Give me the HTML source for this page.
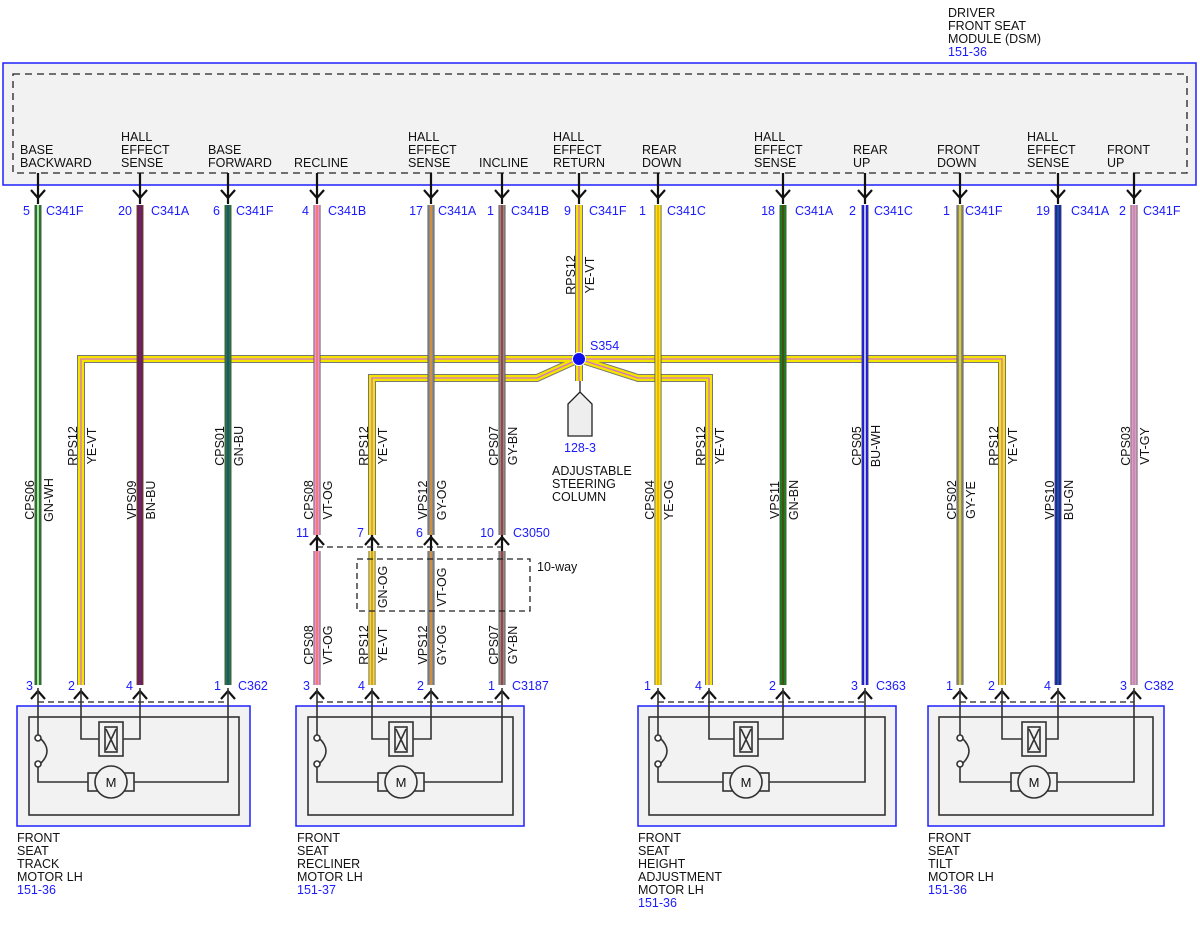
<!DOCTYPE html>
<html><head><meta charset="utf-8"><style>
html,body{margin:0;padding:0;background:#fff;}
svg{display:block;font-family:"Liberation Sans",sans-serif;font-size:12.5px;}
.b{fill:#1a1aff}
.k{fill:#111}
</style></head><body>
<svg width="1200" height="927" viewBox="0 0 1200 927" xmlns="http://www.w3.org/2000/svg">
<text x="948" y="17" class="k">DRIVER</text>
<text x="948" y="30" class="k">FRONT SEAT</text>
<text x="948" y="43" class="k">MODULE (DSM)</text>
<text x="948" y="56" class="b">151-36</text>
<rect x="3" y="63" width="1193" height="122" fill="#f2f2f2" stroke="#2020ff" stroke-width="1.5"/>
<rect x="13" y="74" width="1174" height="99" fill="none" stroke="#222" stroke-width="1.3" stroke-dasharray="7,5"/>
<g class="k">
<text x="20" y="154">BASE</text><text x="20" y="167">BACKWARD</text>
<text x="121" y="141">HALL</text><text x="121" y="154">EFFECT</text><text x="121" y="167">SENSE</text>
<text x="208" y="154">BASE</text><text x="208" y="167">FORWARD</text>
<text x="294" y="167">RECLINE</text>
<text x="408" y="141">HALL</text><text x="408" y="154">EFFECT</text><text x="408" y="167">SENSE</text>
<text x="479" y="167">INCLINE</text>
<text x="553" y="141">HALL</text><text x="553" y="154">EFFECT</text><text x="553" y="167">RETURN</text>
<text x="642" y="154">REAR</text><text x="642" y="167">DOWN</text>
<text x="754" y="141">HALL</text><text x="754" y="154">EFFECT</text><text x="754" y="167">SENSE</text>
<text x="853" y="154">REAR</text><text x="853" y="167">UP</text>
<text x="937" y="154">FRONT</text><text x="937" y="167">DOWN</text>
<text x="1027" y="141">HALL</text><text x="1027" y="154">EFFECT</text><text x="1027" y="167">SENSE</text>
<text x="1107" y="154">FRONT</text><text x="1107" y="167">UP</text>
</g>
<g stroke="#111" stroke-width="2.2" fill="none">
<path d="M38,173V204M31,190L38,198L45,190"/>
<path d="M140,173V204M133,190L140,198L147,190"/>
<path d="M228,173V204M221,190L228,198L235,190"/>
<path d="M317,173V204M310,190L317,198L324,190"/>
<path d="M431,173V204M424,190L431,198L438,190"/>
<path d="M502,173V204M495,190L502,198L509,190"/>
<path d="M579,173V204M572,190L579,198L586,190"/>
<path d="M658,173V204M651,190L658,198L665,190"/>
<path d="M783,173V204M776,190L783,198L790,190"/>
<path d="M865,173V204M858,190L865,198L872,190"/>
<path d="M960,173V204M953,190L960,198L967,190"/>
<path d="M1058,173V204M1051,190L1058,198L1065,190"/>
<path d="M1134,173V204M1127,190L1134,198L1141,190"/>
</g>
<g class="b">
<text x="30" y="215" text-anchor="end">5</text><text x="46" y="215">C341F</text>
<text x="132" y="215" text-anchor="end">20</text><text x="151" y="215">C341A</text>
<text x="220" y="215" text-anchor="end">6</text><text x="236" y="215">C341F</text>
<text x="309" y="215" text-anchor="end">4</text><text x="328" y="215">C341B</text>
<text x="423" y="215" text-anchor="end">17</text><text x="438" y="215">C341A</text>
<text x="494" y="215" text-anchor="end">1</text><text x="511" y="215">C341B</text>
<text x="571" y="215" text-anchor="end">9</text><text x="589" y="215">C341F</text>
<text x="646" y="215" text-anchor="end">1</text><text x="667" y="215">C341C</text>
<text x="775" y="215" text-anchor="end">18</text><text x="795" y="215">C341A</text>
<text x="856" y="215" text-anchor="end">2</text><text x="874" y="215">C341C</text>
<text x="950" y="215" text-anchor="end">1</text><text x="965" y="215">C341F</text>
<text x="1050" y="215" text-anchor="end">19</text><text x="1071" y="215">C341A</text>
<text x="1126" y="215" text-anchor="end">2</text><text x="1143" y="215">C341F</text>
</g>
<g fill="none">
<path d="M81,685V359H1002V685 M372,535V378H537L579,359 M579,359L638,378H709V685 M579,205V381" stroke="#777" stroke-width="8"/>
<path d="M81,685V359H1002V685 M372,535V378H537L579,359 M579,359L638,378H709V685 M579,205V381" stroke="#f5e400" stroke-width="6"/>
<path d="M81,685V359H1002V685 M372,535V378H537L579,359 M579,359L638,378H709V685 M579,205V381" stroke="#d070d0" stroke-width="1.3"/>
</g>
<g fill="none">
<path d="M38,205V685M140,205V685M228,205V685M317,205V535M317,551V685M431,205V535M431,551V685M502,205V535M502,551V685M372,551V685M658,205V685M783,205V685M865,205V685M960,205V685M1058,205V685M1134,205V685" stroke="#555" stroke-width="7"/>
<path d="M38,205V685M228,205V685M783,205V685" stroke="#1a801a" stroke-width="5.4"/>
<path d="M140,205V685" stroke="#8b1a1a" stroke-width="5.4"/>
<path d="M317,205V535M317,551V685M1134,205V685" stroke="#f090cc" stroke-width="5.4"/>
<path d="M431,205V535M431,551V685M502,205V535M502,551V685" stroke="#8a8a8a" stroke-width="5.4"/>
<path d="M372,551V685M658,205V685" stroke="#f5e400" stroke-width="5.4"/>
<path d="M865,205V685M1058,205V685" stroke="#1a1ae0" stroke-width="5.4"/>
<path d="M960,205V685" stroke="#8a8a8a" stroke-width="5.4"/>
<path d="M38,205V685M865,205V685" stroke="#fff" stroke-width="1.4"/>
<path d="M140,205V685M228,205V685" stroke="#3030e0" stroke-width="1.4"/>
<path d="M317,205V535M317,551V685" stroke="#f07040" stroke-width="1.2"/>
<path d="M431,205V535M431,551V685" stroke="#f09020" stroke-width="1.4"/>
<path d="M502,205V535M502,551V685" stroke="#b02020" stroke-width="1.4"/>
<path d="M372,551V685" stroke="#c060c0" stroke-width="1.2"/>
<path d="M658,205V685" stroke="#f09000" stroke-width="1.2"/>
<path d="M783,205V685" stroke="#603010" stroke-width="1.2"/>
<path d="M960,205V685" stroke="#f5e400" stroke-width="1.6"/>
<path d="M1058,205V685" stroke="#1a801a" stroke-width="1.4"/>
<path d="M1134,205V685" stroke="#999" stroke-width="1.4"/>
</g>
<circle cx="579" cy="359" r="6.5" fill="#1010ee" stroke="#fff" stroke-width="1"/>
<text x="590" y="350" class="b">S354</text>
<path d="M580,381V392M580,392L568,404V436H592V404Z" stroke="#222" stroke-width="1.3" fill="#eee"/>
<text x="580" y="452" class="b" text-anchor="middle">128-3</text>
<g class="k"><text x="552" y="475">ADJUSTABLE</text><text x="552" y="488">STEERING</text><text x="552" y="501">COLUMN</text></g>
<g class="k" text-anchor="middle">
<text transform="translate(34,500) rotate(-90)">CPS06</text><text transform="translate(53,500) rotate(-90)">GN-WH</text>
<text transform="translate(77,446) rotate(-90)">RPS12</text><text transform="translate(96,446) rotate(-90)">YE-VT</text>
<text transform="translate(136,500) rotate(-90)">VPS09</text><text transform="translate(155,500) rotate(-90)">BN-BU</text>
<text transform="translate(224,446) rotate(-90)">CPS01</text><text transform="translate(243,446) rotate(-90)">GN-BU</text>
<text transform="translate(313,500) rotate(-90)">CPS08</text><text transform="translate(332,500) rotate(-90)">VT-OG</text>
<text transform="translate(368,446) rotate(-90)">RPS12</text><text transform="translate(387,446) rotate(-90)">YE-VT</text>
<text transform="translate(427,500) rotate(-90)">VPS12</text><text transform="translate(446,500) rotate(-90)">GY-OG</text>
<text transform="translate(498,446) rotate(-90)">CPS07</text><text transform="translate(517,446) rotate(-90)">GY-BN</text>
<text transform="translate(575,275) rotate(-90)">RPS12</text><text transform="translate(594,275) rotate(-90)">YE-VT</text>
<text transform="translate(654,500) rotate(-90)">CPS04</text><text transform="translate(673,500) rotate(-90)">YE-OG</text>
<text transform="translate(705,446) rotate(-90)">RPS12</text><text transform="translate(724,446) rotate(-90)">YE-VT</text>
<text transform="translate(779,500) rotate(-90)">VPS11</text><text transform="translate(798,500) rotate(-90)">GN-BN</text>
<text transform="translate(861,446) rotate(-90)">CPS05</text><text transform="translate(880,446) rotate(-90)">BU-WH</text>
<text transform="translate(956,500) rotate(-90)">CPS02</text><text transform="translate(975,500) rotate(-90)">GY-YE</text>
<text transform="translate(998,446) rotate(-90)">RPS12</text><text transform="translate(1017,446) rotate(-90)">YE-VT</text>
<text transform="translate(1054,500) rotate(-90)">VPS10</text><text transform="translate(1073,500) rotate(-90)">BU-GN</text>
<text transform="translate(1130,446) rotate(-90)">CPS03</text><text transform="translate(1149,446) rotate(-90)">VT-GY</text>
<text transform="translate(313,645) rotate(-90)">CPS08</text><text transform="translate(332,645) rotate(-90)">VT-OG</text>
<text transform="translate(368,645) rotate(-90)">RPS12</text><text transform="translate(387,645) rotate(-90)">YE-VT</text>
<text transform="translate(387,587) rotate(-90)">GN-OG</text>
<text transform="translate(446,587) rotate(-90)">VT-OG</text>
<text transform="translate(427,645) rotate(-90)">VPS12</text><text transform="translate(446,645) rotate(-90)">GY-OG</text>
<text transform="translate(498,645) rotate(-90)">CPS07</text><text transform="translate(517,645) rotate(-90)">GY-BN</text>
</g>
<g stroke="#111" stroke-width="2.2" fill="none">
<path d="M317,535V551M310,545L317,537L324,545"/>
<path d="M372,535V551M365,545L372,537L379,545"/>
<path d="M431,535V551M424,545L431,537L438,545"/>
<path d="M502,535V551M495,545L502,537L509,545"/>
</g>
<path d="M317,547H502" stroke="#222" stroke-width="1.3" stroke-dasharray="6,4"/>
<rect x="357" y="559" width="173" height="52" fill="none" stroke="#222" stroke-width="1.3" stroke-dasharray="6,4"/>
<text x="537" y="571" class="k">10-way</text>
<g class="b">
<text x="309" y="537" text-anchor="end">11</text>
<text x="364" y="537" text-anchor="end">7</text>
<text x="423" y="537" text-anchor="end">6</text>
<text x="494" y="537" text-anchor="end">10</text><text x="513" y="537">C3050</text>
</g>
<g class="b">
<text x="33" y="690" text-anchor="end">3</text>
<text x="75" y="690" text-anchor="end">2</text>
<text x="133" y="690" text-anchor="end">4</text>
<text x="221" y="690" text-anchor="end">1</text><text x="238" y="690">C362</text>
<text x="310" y="690" text-anchor="end">3</text>
<text x="365" y="690" text-anchor="end">4</text>
<text x="424" y="690" text-anchor="end">2</text>
<text x="495" y="690" text-anchor="end">1</text><text x="512" y="690">C3187</text>
<text x="651" y="690" text-anchor="end">1</text>
<text x="702" y="690" text-anchor="end">4</text>
<text x="776" y="690" text-anchor="end">2</text>
<text x="858" y="690" text-anchor="end">3</text><text x="876" y="690">C363</text>
<text x="953" y="690" text-anchor="end">1</text>
<text x="995" y="690" text-anchor="end">2</text>
<text x="1051" y="690" text-anchor="end">4</text>
<text x="1127" y="690" text-anchor="end">3</text><text x="1144" y="690">C382</text>
</g>
<g>
<rect x="17" y="706" width="233" height="120" fill="#f2f2f2" stroke="#2020ff" stroke-width="1.5"/>
<rect x="29" y="717" width="210" height="98" fill="none" stroke="#333" stroke-width="1.6"/>
<rect x="296" y="706" width="228" height="120" fill="#f2f2f2" stroke="#2020ff" stroke-width="1.5"/>
<rect x="308" y="717" width="205" height="98" fill="none" stroke="#333" stroke-width="1.6"/>
<rect x="638" y="706" width="258" height="120" fill="#f2f2f2" stroke="#2020ff" stroke-width="1.5"/>
<rect x="649" y="717" width="236" height="98" fill="none" stroke="#333" stroke-width="1.6"/>
<rect x="928" y="706" width="236" height="120" fill="#f2f2f2" stroke="#2020ff" stroke-width="1.5"/>
<rect x="939" y="717" width="214" height="98" fill="none" stroke="#333" stroke-width="1.6"/>
</g>
<g stroke="#222" stroke-width="1.3" stroke-dasharray="6,4">
<path d="M38,702H228M317,702H502M658,702H865M960,702H1134"/>
</g>
<g stroke="#111" stroke-width="2.2" fill="none">
<path d="M31,699L38,691L45,699M74,699L81,691L88,699M133,699L140,691L147,699M221,699L228,691L235,699"/>
<path d="M310,699L317,691L324,699M365,699L372,691L379,699M424,699L431,691L438,699M495,699L502,691L509,699"/>
<path d="M651,699L658,691L665,699M702,699L709,691L716,699M776,699L783,691L790,699M858,699L865,691L872,699"/>
<path d="M953,699L960,691L967,699M995,699L1002,691L1009,699M1051,699L1058,691L1065,699M1127,699L1134,691L1141,699"/>
</g>
<g stroke="#333" stroke-width="1.6" fill="none">
<path d="M38,688V735M38,767V782H88M134,782H228V688M81,688V739H99M123,739H140V688"/>
<path d="M40,738Q54,751 40,764"/>
<circle cx="38" cy="738" r="3" fill="#fff"/><circle cx="38" cy="764" r="3" fill="#fff"/>
<rect x="99" y="722" width="24" height="34" fill="#f2f2f2"/><rect x="105" y="727" width="12" height="25"/><path d="M106,729L116,750M116,729L106,750"/>
<rect x="88" y="773" width="46" height="18" fill="#f2f2f2"/><circle cx="111" cy="782" r="16" fill="#f2f2f2"/>
<path d="M317,688V735M317,767V782H378M424,782H502V688M372,688V739H389M413,739H431V688"/>
<path d="M319,738Q333,751 319,764"/>
<circle cx="317" cy="738" r="3" fill="#fff"/><circle cx="317" cy="764" r="3" fill="#fff"/>
<rect x="389" y="722" width="24" height="34" fill="#f2f2f2"/><rect x="395" y="727" width="12" height="25"/><path d="M396,729L406,750M406,729L396,750"/>
<rect x="378" y="773" width="46" height="18" fill="#f2f2f2"/><circle cx="401" cy="782" r="16" fill="#f2f2f2"/>
<path d="M658,688V735M658,767V782H723M769,782H865V688M709,688V739H734M758,739H783V688"/>
<path d="M660,738Q674,751 660,764"/>
<circle cx="658" cy="738" r="3" fill="#fff"/><circle cx="658" cy="764" r="3" fill="#fff"/>
<rect x="734" y="722" width="24" height="34" fill="#f2f2f2"/><rect x="740" y="727" width="12" height="25"/><path d="M741,729L751,750M751,729L741,750"/>
<rect x="723" y="773" width="46" height="18" fill="#f2f2f2"/><circle cx="746" cy="782" r="16" fill="#f2f2f2"/>
<path d="M960,688V735M960,767V782H1011M1057,782H1134V688M1002,688V739H1022M1046,739H1058V688"/>
<path d="M962,738Q976,751 962,764"/>
<circle cx="960" cy="738" r="3" fill="#fff"/><circle cx="960" cy="764" r="3" fill="#fff"/>
<rect x="1022" y="722" width="24" height="34" fill="#f2f2f2"/><rect x="1028" y="727" width="12" height="25"/><path d="M1029,729L1039,750M1039,729L1029,750"/>
<rect x="1011" y="773" width="46" height="18" fill="#f2f2f2"/><circle cx="1034" cy="782" r="16" fill="#f2f2f2"/>
</g>
<g class="k" font-size="13" text-anchor="middle">
<text x="111" y="787">M</text><text x="401" y="787">M</text><text x="746" y="787">M</text><text x="1034" y="787">M</text>
</g>
<g class="k">
<text x="17" y="842">FRONT</text><text x="17" y="855">SEAT</text><text x="17" y="868">TRACK</text><text x="17" y="881">MOTOR LH</text><text x="17" y="894" class="b">151-36</text>
<text x="297" y="842">FRONT</text><text x="297" y="855">SEAT</text><text x="297" y="868">RECLINER</text><text x="297" y="881">MOTOR LH</text><text x="297" y="894" class="b">151-37</text>
<text x="638" y="842">FRONT</text><text x="638" y="855">SEAT</text><text x="638" y="868">HEIGHT</text><text x="638" y="881">ADJUSTMENT</text><text x="638" y="894">MOTOR LH</text><text x="638" y="907" class="b">151-36</text>
<text x="928" y="842">FRONT</text><text x="928" y="855">SEAT</text><text x="928" y="868">TILT</text><text x="928" y="881">MOTOR LH</text><text x="928" y="894" class="b">151-36</text>
</g>
</svg>
</body></html>
